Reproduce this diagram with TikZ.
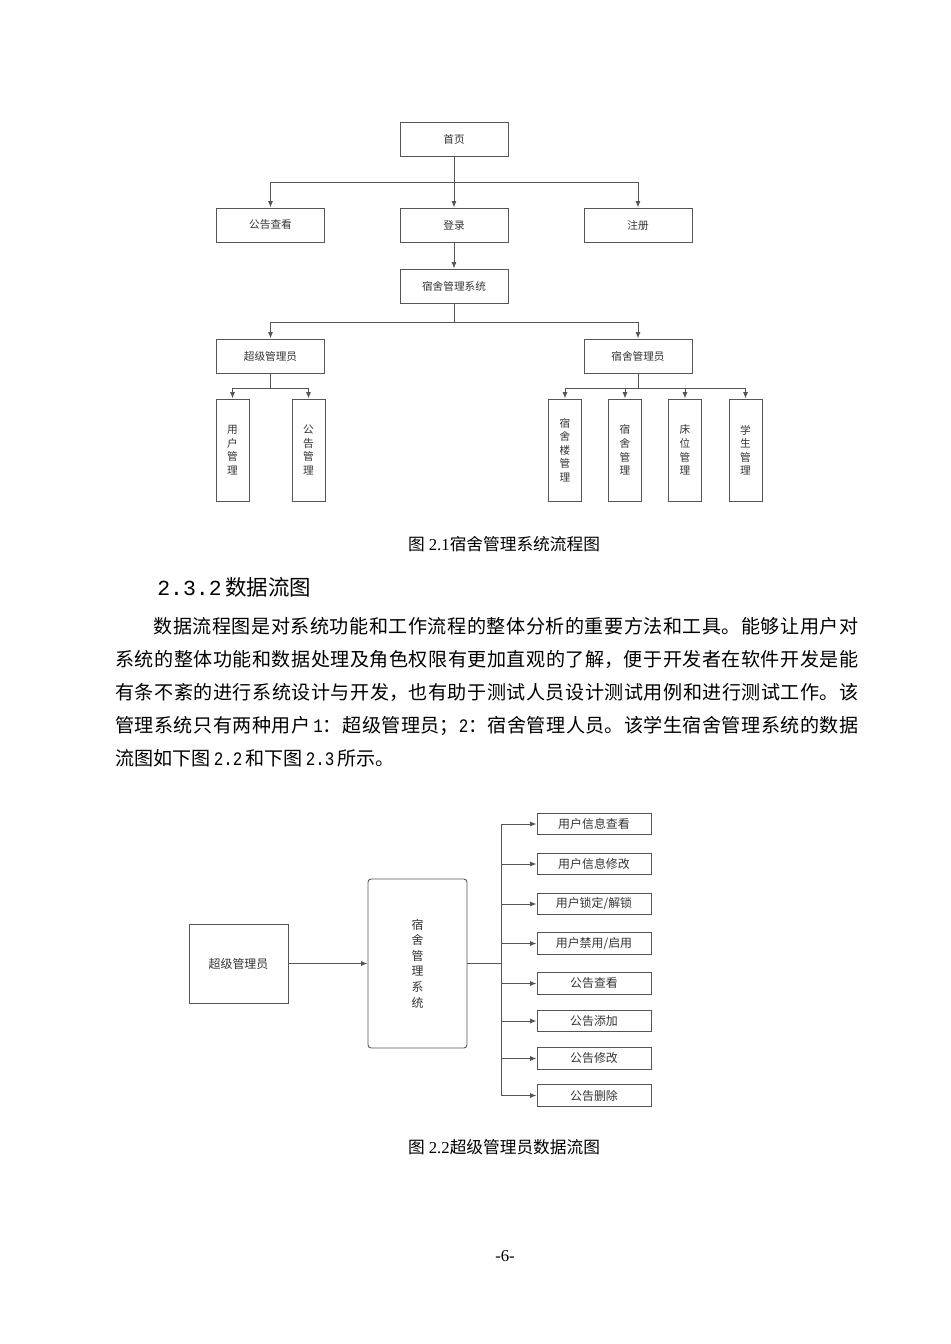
\documentclass[tikz,border=0pt]{standalone}
\usepackage{fontspec}
\setmainfont{Liberation Serif}
\newfontfamily\cjk{Noto Sans CJK SC}
\newfontfamily\monodigit{Liberation Mono}
\newfontfamily\narrowdigit[FakeStretch=0.83]{Liberation Mono}
\usepackage{tikz}
\usetikzlibrary{arrows.meta,positioning}
\usepackage{xcolor}
\definecolor{linegray}{HTML}{555555}
\definecolor{textgray}{HTML}{333333}
\newcommand\pix{0.629pt}
\newcommand\numtxt[1]{{\narrowdigit #1}}
\XeTeXlinebreaklocale "zh"
\XeTeXlinebreakskip=0pt plus 1pt

\begin{document}
\begin{tikzpicture}[x=0.629pt,y=-0.629pt,
	arr/.style={draw=linegray,line width=0.6pt,-{Latex[length=1.4mm,width=1.1mm]}},
	link/.style={draw=linegray,line width=0.6pt}]
	\useasboundingbox (0,0) rectangle (950,1344);

	% flow chart 2.1
	\begin{scope}[every node/.style={rectangle,draw=linegray,line width=0.6pt,text=textgray,font=\cjk\fontsize{6.7}{8.5}\selectfont,minimum height=34*\pix,minimum width=108*\pix,inner sep=0pt}]
		\node (home) at (454,139) {首页};
		\node (notice) at (270.5,225) {公告查看};
		\node (login) at (454,225) {登录};
		\node (register) at (638,225) {注册};
		\node (dormsys) at (454,286) {宿舍管理系统};
		\node (superadm) at (270.5,356) {超级管理员};
		\node (dormadm) at (638,356) {宿舍管理员};
	\end{scope}
	\begin{scope}[every node/.style={rectangle,draw=linegray,line width=0.6pt,text=textgray,font=\cjk\fontsize{6.7}{8.5}\selectfont,minimum height=102*\pix,minimum width=33*\pix,inner sep=0pt,align=center}]
		\node (usermgr) at (232.5,450) {用\\户\\管\\理};
		\node (noticemgr) at (308.5,450) {公\\告\\管\\理};
		\node (bldgmgr) at (565,450) {宿\\舍\\楼\\管\\理};
		\node (roommgr) at (625,450) {宿\\舍\\管\\理};
		\node (bedmgr) at (685,450) {床\\位\\管\\理};
		\node (stumgr) at (745.5,450) {学\\生\\管\\理};
	\end{scope}

	\coordinate (b1) at (454,182);
	\coordinate (b2) at (454,322);
	\coordinate (b3) at (270.5,388);
	\coordinate (b4) at (638,388);
	\draw[link] (home.south) -- (b1);
	\draw[arr] (b1) -| (notice.north);
	\draw[arr] (b1) -- (login.north);
	\draw[arr] (b1) -| (register.north);
	\draw[arr] (login) -- (dormsys);
	\draw[link] (dormsys.south) -- (b2);
	\draw[arr] (b2) -| (superadm.north);
	\draw[arr] (b2) -| (dormadm.north);
	\draw[link] (superadm.south) -- (b3);
	\draw[arr] (b3) -| (usermgr.north);
	\draw[arr] (b3) -| (noticemgr.north);
	\draw[link] (dormadm.south) -- (b4);
	\foreach \leaf in {bldgmgr,roommgr,bedmgr,stumgr}
		\draw[arr] (b4) -| (\leaf.north);

	\node[anchor=base,font=\fontsize{10.5}{12}\selectfont] (cap1) at (504,550) {{\cjk 图} 2.1{\cjk 宿舍管理系统流程图}};

	% section text
	\node[anchor=base west,inner sep=0pt,font=\fontsize{13.5}{16}\selectfont] (sec) at (157,595) {{\monodigit 2.3.2}\,{\cjk 数据流图}};
	\node[anchor=base west,inner sep=0pt,text width=743*\pix,align=justify,font=\cjk\fontsize{12}{20.8}\selectfont] (para) at (115,633)
		{\hspace*{24pt}数据流程图是对系统功能和工作流程的整体分析的重要方法和工具。能够让用户对\linebreak
		系统的整体功能和数据处理及角色权限有更加直观的了解，便于开发者在软件开发是能\linebreak
		有条不紊的进行系统设计与开发，也有助于测试人员设计测试用例和进行测试工作。该\linebreak
		管理系统只有两种用户\,\numtxt{1}：超级管理员；\numtxt{2}：宿舍管理人员。该学生宿舍管理系统的数据\linebreak
		流图如下图\,\numtxt{2.2}\,和下图\,\numtxt{2.3}\,所示。};

	% data flow 2.2
	\begin{scope}[every node/.style={rectangle,draw=linegray,line width=0.6pt,text=textgray,font=\cjk\fontsize{7.5}{9.8}\selectfont,inner sep=0pt,align=center}]
		\node[minimum width=99*\pix,minimum height=79*\pix] (admin) at (238.5,963.5) {超级管理员};
		\node[minimum width=99*\pix,minimum height=169*\pix,rounded corners=2pt] (core) at (417.5,963.5) {宿\\舍\\管\\理\\系\\统};
		\foreach \name/\label/\y in {view/{用户信息查看}/824,edit/{用户信息修改}/864,lock/{用户锁定/解锁}/904,ban/{用户禁用/启用}/943.5,nview/{公告查看}/983.5,nadd/{公告添加}/1021,nedit/{公告修改}/1058.5,ndel/{公告删除}/1095.5}
			\node[minimum width=114*\pix,minimum height=21.5*\pix] (\name) at (594,\y) {\label};
	\end{scope}
	\coordinate (bus) at (501,963.5);
	\draw[arr] (admin) -- (core);
	\draw[link] (core.east) -- (bus);
	\foreach \name in {view,edit,lock,ban,nview,nadd,nedit,ndel}
		\draw[arr] (bus) |- (\name.west);

	\node[anchor=base,font=\fontsize{10.5}{12}\selectfont] (cap2) at (504,1153) {{\cjk 图} 2.2{\cjk 超级管理员数据流图}};
	\node[anchor=base,font=\fontsize{10.5}{12}\selectfont] (pageno) at (505,1261) {-6-};
\end{tikzpicture}
\end{document}
